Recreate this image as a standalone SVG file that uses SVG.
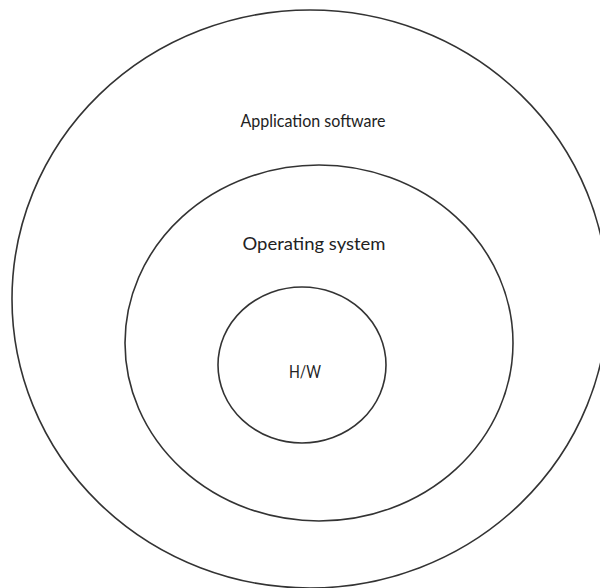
<svg xmlns="http://www.w3.org/2000/svg" width="600" height="588" viewBox="0 0 600 588">
  <style>
    .ring { fill: none; stroke: #333; stroke-width: 1.6; }
    .label { font-family: Lato, "Open Sans", "Liberation Sans", sans-serif; font-size: 17.5px; fill: #222; text-anchor: middle; }
  </style>
  <rect width="600" height="588" fill="#fff"/>
  <g id="application-software">
    <ellipse class="ring" cx="310" cy="299" rx="298" ry="289"/>
    <text class="label" x="313" y="127" textLength="145" lengthAdjust="spacingAndGlyphs">Application software</text>
  </g>
  <g id="operating-system">
    <ellipse class="ring" cx="319" cy="343" rx="194" ry="178"/>
    <text class="label" x="314" y="250" textLength="143" lengthAdjust="spacingAndGlyphs">Operating system</text>
  </g>
  <g id="hardware">
    <ellipse class="ring" cx="302" cy="365" rx="84" ry="78"/>
    <text class="label" x="305" y="378" textLength="32" lengthAdjust="spacingAndGlyphs">H/W</text>
  </g>
  <g id="connectors"/>
</svg>
